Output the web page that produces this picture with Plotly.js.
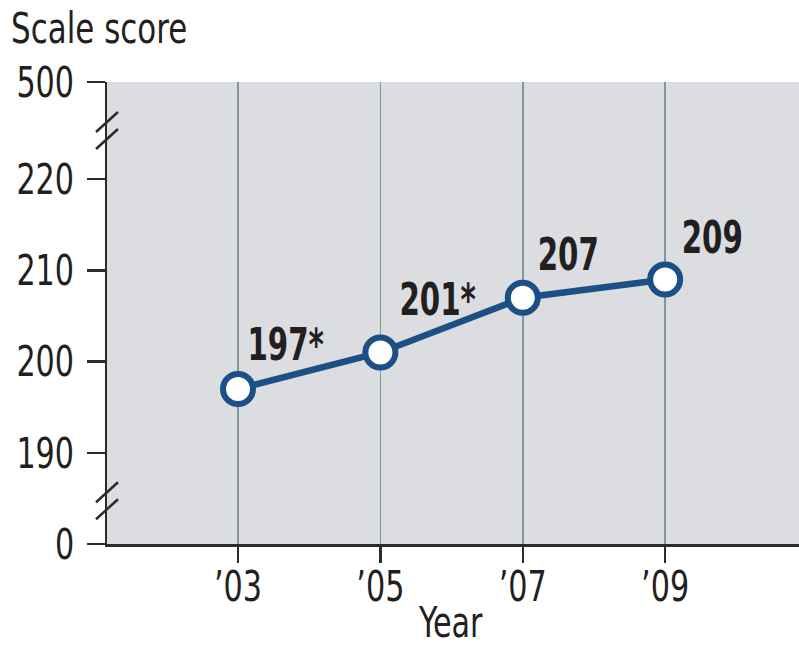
<!DOCTYPE html>
<html>
<head>
<meta charset="utf-8">
<script src="https://cdn.plot.ly/plotly-3.0.1.min.js"></script>
<style>html,body{margin:0;padding:0;background:#fff;}#chart{width:799px;height:649px;}</style>
</head>
<body>
<div id="chart"></div>
<script>
// Data
const years = [2003, 2005, 2007, 2009];
const yearLabels = ["\u201903", "\u201905", "\u201907", "\u201909"];
const scores = [197, 201, 207, 209];
const scoreLabels = ["197*", "201*", "207", "209"];
// y axis: broken scale (0 and 500 are placed one break-step beyond the 190–220 range)
const yTickPositions = [180, 190, 200, 210, 220, 230.66];
const yTickLabels = ["0", "190", "200", "210", "220", "500"];
const yBreaks = [184.8, 225.4];

const FONT = "'DejaVu Sans Condensed', 'DejaVu Sans', sans-serif";
const TXT = "#231f20";
const AX = "#2b2b2b";
const BLUE = "#1b4f86";
const PW = 692, PH = 462; // plot area size in px (for paper offsets)

const trace = {
  x: years, y: scores, type: "scatter", mode: "lines+markers",
  line: {color: BLUE, width: 6.5},
  marker: {size: 30, color: "#ffffff", line: {color: BLUE, width: 6}},
  hoverinfo: "skip", cliponaxis: false
};

const labelShift = [[47, 44], [57, 53], [46, 43], [47, 42]];
const annotations = years.map((yr, i) => ({
  x: yr, y: scores[i], xref: "x", yref: "y", text: scoreLabels[i], showarrow: false,
  xanchor: "center", yanchor: "middle", xshift: labelShift[i][0], yshift: labelShift[i][1],
  font: {family: FONT, size: 44, color: TXT, weight: "bold"}
}));
annotations.push({
  xref: "paper", yref: "paper", x: (98.5 - 107) / PW, y: 1 + 54 / PH, xanchor: "center", yanchor: "middle",
  text: "Scale score", showarrow: false, font: {family: FONT, size: 43, color: TXT}
});
annotations.push({
  xref: "paper", yref: "paper", x: (450 - 107) / PW, y: -(649 - 544) / PH, xanchor: "center", yanchor: "bottom",
  text: "Year", showarrow: false, font: {family: FONT, size: 42, color: TXT}
});

const shapes = [];
yBreaks.forEach(yb => {
  [[-11, -2, 11, 18], [-11, -19, 11, 1]].forEach(s => {
    shapes.push({type: "line", xref: "paper", yref: "y", xsizemode: "pixel", ysizemode: "pixel",
      xanchor: 0, yanchor: yb, x0: s[0], y0: s[1], x1: s[2], y1: s[3],
      line: {color: AX, width: 2.5}});
  });
});

const layout = {
  width: 799, height: 649,
  margin: {l: 107, r: 0, t: 82, b: 105, pad: 0},
  paper_bgcolor: "#ffffff", plot_bgcolor: "#dcdde0",
  showlegend: false,
  font: {family: FONT, color: TXT, size: 42},
  xaxis: {
    range: [2001.16, 2010.88], tickvals: years, ticktext: yearLabels,
    showgrid: true, gridcolor: "#869595", gridwidth: 1.5, zeroline: false,
    showline: true, linecolor: AX, linewidth: 2.5,
    ticks: "outside", ticklen: 16, tickwidth: 2.5, tickcolor: AX,
    tickfont: {family: FONT, size: 42, color: TXT}, ticklabelstandoff: -12,
    fixedrange: true
  },
  yaxis: {
    range: [180, 230.66], tickvals: yTickPositions, ticktext: yTickLabels,
    showgrid: false, zeroline: false,
    showline: true, linecolor: AX, linewidth: 2.5,
    ticks: "outside", ticklen: 18, tickwidth: 2.5, tickcolor: AX,
    tickfont: {family: FONT, size: 42, color: TXT}, ticklabelstandoff: 4,
    fixedrange: true
  },
  annotations: annotations,
  shapes: shapes
};

Plotly.newPlot("chart", [trace], layout, {displayModeBar: false, staticPlot: true}).then(() => {
  // condense glyphs horizontally to mimic the narrow typeface of the original
  document.querySelectorAll("#chart svg text").forEach(el => {
    const w = el.getComputedTextLength();
    if (!w) return;
    const bold = /bold|700/.test(el.style.fontWeight || "");
    el.setAttribute("textLength", (w * (bold ? 0.74 : 0.8)).toFixed(1));
    el.setAttribute("lengthAdjust", "spacingAndGlyphs");
  });
});
</script>
</body>
</html>
